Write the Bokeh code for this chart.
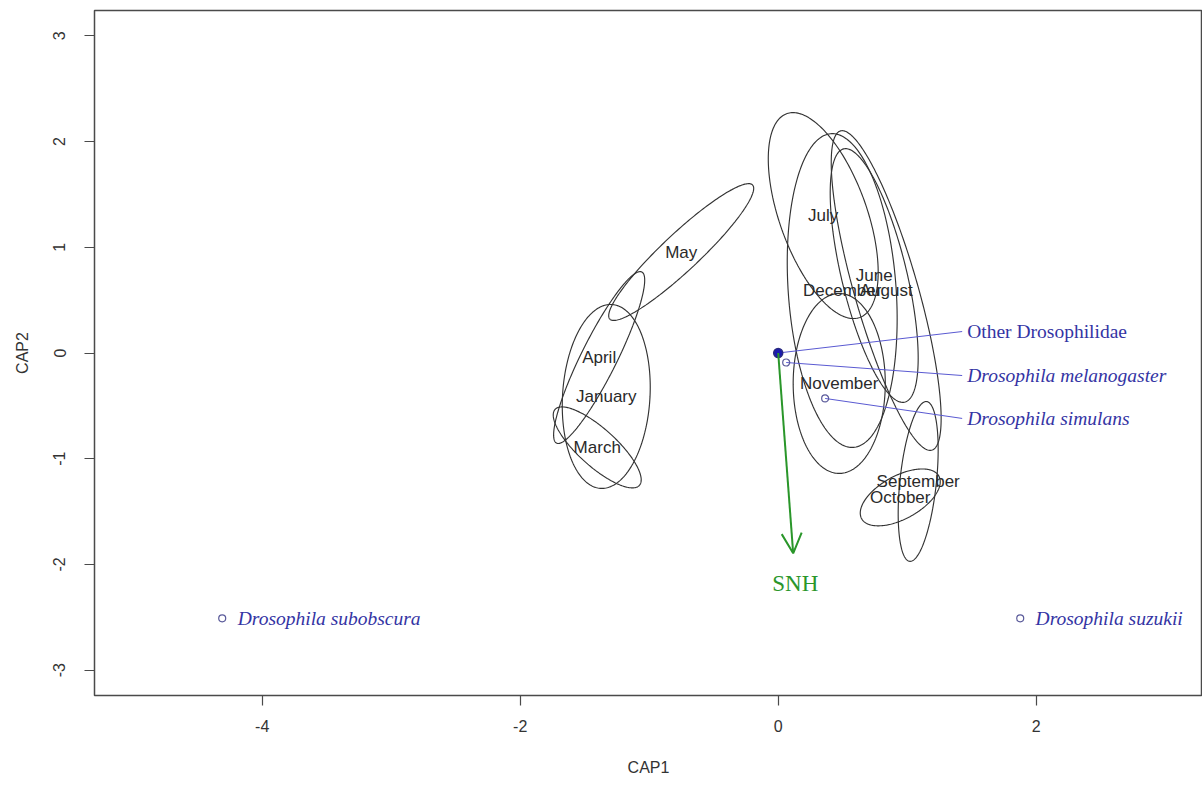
import numpy as np
from bokeh.plotting import figure
from bokeh.models import Range1d, FixedTicker, Arrow, OpenHead
from bokeh.core.properties import value
from bokeh.embed import file_html
from bokeh.resources import INLINE

# ---- month ellipses (ordiellipse): centre, x-sd, y-sd, correlation ----
months = ["May", "April", "January", "March", "July", "June", "December",
          "August", "November", "September", "October"]
ell_cx = [-0.752, -1.388, -1.333, -1.403, 0.349, 0.744, 0.496, 0.837, 0.473, 1.085, 0.946]
ell_cy = [0.955, -0.043, -0.411, -0.893, 1.300, 0.733, 0.591, 0.591, -0.288, -1.215, -1.366]
ell_sx = [0.562, 0.353, 0.341, 0.341, 0.426, 0.341, 0.426, 0.426, 0.357, 0.155, 0.310]
ell_sy = [0.647, 0.813, 0.870, 0.383, 0.974, 1.200, 1.484, 1.512, 0.851, 0.756, 0.269]
ell_r = [0.93, 0.90, 0.10, -0.80, -0.55, -0.65, -0.18, -0.80, 0.0, 0.40, 0.55]

# ---- species scores ----
species = ["Other Drosophilidae", "Drosophila melanogaster", "Drosophila simulans",
           "Drosophila subobscura", "Drosophila suzukii"]
sp_x = [0.0, 0.062, 0.364, -4.31, 1.876]
sp_y = [0.0, -0.09, -0.43, -2.51, -2.51]
lab_x = [1.465, 1.465, 1.465, -4.19, 1.995]
lab_y = [0.203, -0.213, -0.619, -2.51, -2.51]
leader_end_x = [1.426, 1.426, 1.426]

# ---- environmental vector ----
env_name = ["SNH"]
env_x = [0.116]
env_y = [-1.895]
env_lab_x = [0.132]
env_lab_y = [-2.18]

x_ticks = [-4, -2, 0, 2]
y_ticks = [-3, -2, -1, 0, 1, 2, 3]

p = figure(width=1202, height=785, output_backend="svg", toolbar_location=None,
           x_range=Range1d(-5.30, 3.289), y_range=Range1d(-3.24, 3.24),
           min_border_left=94, min_border_right=0, min_border_top=10, min_border_bottom=90,
           x_axis_label="CAP1", y_axis_label="CAP2")
p.grid.visible = False
p.outline_line_color = "#4a4a4a"
p.outline_line_width = 1.5
p.background_fill_color = "white"
p.border_fill_color = "white"

for ax in (p.xaxis[0], p.yaxis[0]):
    ax.axis_line_color = None
    ax.major_tick_line_color = "#4a4a4a"
    ax.major_tick_line_width = 1.2
    ax.major_tick_out = 10
    ax.major_tick_in = 0
    ax.minor_tick_line_color = None
    ax.major_label_text_font = "Liberation Sans"
    ax.major_label_text_font_size = "16px"
    ax.major_label_text_color = "#333333"
    ax.axis_label_text_font = "Liberation Sans"
    ax.axis_label_text_font_size = "16px"
    ax.axis_label_text_font_style = "normal"
    ax.axis_label_text_color = "#333333"

p.xaxis.ticker = FixedTicker(ticks=x_ticks)
p.yaxis.ticker = FixedTicker(ticks=y_ticks)
p.xaxis.major_label_overrides = {v: str(v) for v in x_ticks}
p.yaxis.major_label_overrides = {v: str(v) for v in y_ticks}
p.yaxis.major_label_orientation = "vertical"
p.xaxis.major_label_standoff = 14
p.yaxis.major_label_standoff = 19
p.xaxis.axis_label_standoff = 24
p.yaxis.axis_label_standoff = 20

# ellipses
t = np.linspace(0, 2 * np.pi, 240)
xs, ys = [], []
for cx, cy, sx, sy, r in zip(ell_cx, ell_cy, ell_sx, ell_sy, ell_r):
    xs.append(cx + sx * np.cos(t))
    ys.append(cy + sy * (r * np.cos(t) + np.sqrt(1 - r * r) * np.sin(t)))
p.multi_line(xs, ys, line_color="#333333", line_width=1.15)

p.text(x=ell_cx, y=ell_cy, text=months, text_align="center", text_baseline="middle",
       text_font=value("Liberation Sans"), text_font_size="17px", text_color="#2a2a2a")

# leader lines
p.segment(x0=sp_x[:3], y0=sp_y[:3], x1=leader_end_x, y1=lab_y[:3],
          line_color="#5a5ad2", line_width=1)

# species points
p.scatter(x=sp_x[1:], y=sp_y[1:], size=7, marker="circle", fill_color=None,
          line_color="#5a5a9a", line_width=1.2)
p.scatter(x=sp_x[:1], y=sp_y[:1], size=9, marker="circle", fill_color="#1a1ab0",
          line_color="#2a2a80", line_width=1.5)

# species labels
p.text(x=lab_x[:1], y=lab_y[:1], text=species[:1], text_align="left", text_baseline="middle",
       text_font=value("Liberation Serif"), text_font_size="19.5px", text_color="#3434a4")
p.text(x=lab_x[1:], y=lab_y[1:], text=species[1:], text_align="left", text_baseline="middle",
       text_font=value("Liberation Serif"), text_font_style="italic", text_font_size="19.5px",
       text_color="#3434a4")

# SNH arrow
for ex, ey in zip(env_x, env_y):
    p.add_layout(Arrow(x_start=0, y_start=0, x_end=ex, y_end=ey,
                       line_color="#2a962a", line_width=2,
                       end=OpenHead(size=20, line_color="#2a962a", line_width=2)))
p.text(x=env_lab_x, y=env_lab_y, text=env_name, text_align="center", text_baseline="middle",
       text_font=value("Liberation Serif"), text_font_size="23px", text_color="#2a962a")

open("out.html", "w").write(file_html(p, INLINE))
